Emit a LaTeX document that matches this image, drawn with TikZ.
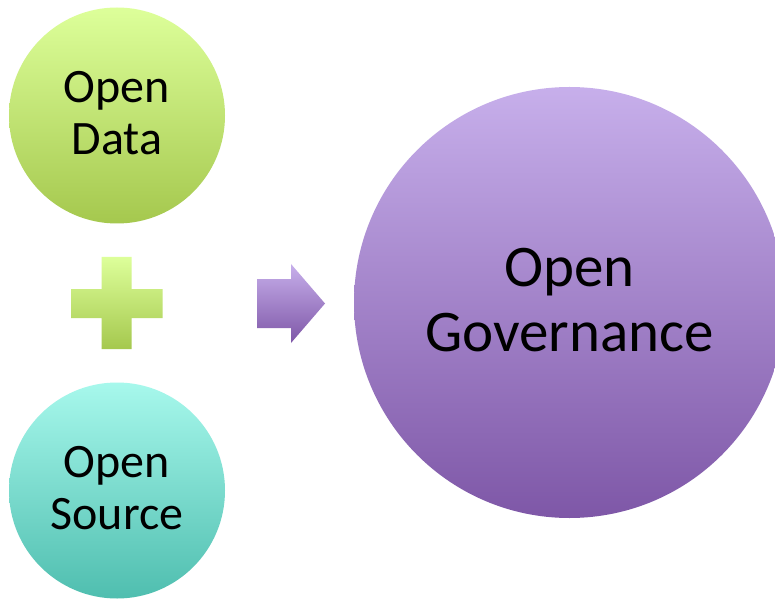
\documentclass[tikz,border=0pt]{standalone}
\usepackage{fontspec}
\setmainfont{Carlito}
\definecolor{greenTop}{HTML}{DDFF9A}
\definecolor{greenBot}{HTML}{A5C84E}
\definecolor{tealTop}{HTML}{A7F8EC}
\definecolor{tealBot}{HTML}{4FBEAF}
\definecolor{purpTop}{HTML}{C7AFEB}
\definecolor{purpBot}{HTML}{7E57A7}
\tikzset{
  greenfill/.style={top color=greenTop, bottom color=greenBot, draw=none},
  tealfill/.style={top color=tealTop, bottom color=tealBot, draw=none},
  purpfill/.style={top color=purpTop, bottom color=purpBot, draw=none},
  smallball/.style={circle, minimum size=216pt, inner sep=0pt},
  bigball/.style={circle, minimum size=431pt, inner sep=0pt},
  smalltext/.style={font=\fontsize{48}{52}\selectfont, align=center, inner sep=0pt},
  bigtext/.style={font=\fontsize{59}{65}\selectfont, align=center, inner sep=0pt},
}
\begin{document}
\begin{tikzpicture}[x=1pt,y=-1pt]
\useasboundingbox (0,0) rectangle (775,601);
\clip (0,0) rectangle (775,601);
\fill[white] (0,0) rectangle (775,601);
% circles
\node[smallball, greenfill] (data) at (117,115.5) {};
\node[smallball, tealfill] (source) at (117,490.5) {};
\node[bigball, purpfill] (gov) at (569.5,302.5) {};
% labels
\node[smalltext] (dataText) at ([yshift=2.3pt]data.center) {Open\\Data};
\node[smalltext] (sourceText) at ([yshift=2.3pt]source.center) {Open\\Source};
\node[bigtext] (govText) at ([yshift=2pt]gov.center) {Open\\Governance};
% plus sign
\path[greenfill] (101.7,257) -- (131.7,257) -- (131.7,289) -- (162.7,289)
  -- (162.7,318) -- (131.7,318) -- (131.7,349) -- (101.7,349) -- (101.7,318)
  -- (71,318) -- (71,289) -- (101.7,289) -- cycle;
% arrow
\path[purpfill] (257,279) -- (291,279) -- (291,264) -- (325,303.5) -- (291,343)
  -- (291,328) -- (257,328) -- cycle;
\end{tikzpicture}
\end{document}
